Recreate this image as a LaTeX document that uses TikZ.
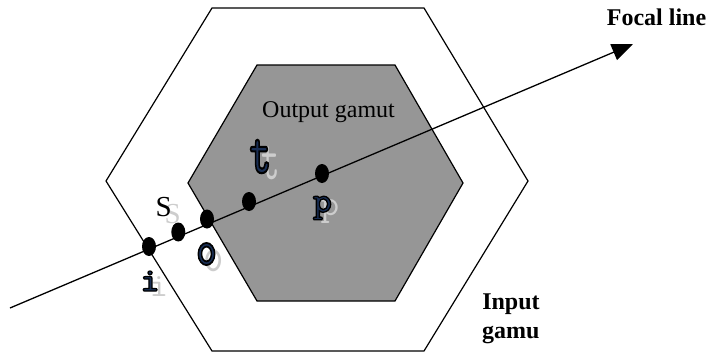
\documentclass[tikz,border=0pt]{standalone}
\usepackage{fontspec}
\setmainfont{Liberation Serif}
\usetikzlibrary{shapes.geometric,arrows.meta}
\definecolor{gamutgray}{RGB}{150,150,150}
\definecolor{ghostgray}{RGB}{205,205,205}
\newcommand{\outlch}[1]{\special{pdf:literal 2 Tr 1.3 w 0 0 0 RG 0.10 0.18 0.33 rg}#1\special{pdf:literal 0 Tr 0 g 0 G}}
\begin{document}
\begin{tikzpicture}[x=1pt,y=-1pt,
  hexline/.style={draw=black,line width=1.2pt,line join=miter},
  ptdot/.style={ellipse,fill=black,inner sep=0pt,minimum width=14pt,minimum height=19pt},
  monolab/.style={inner sep=0pt,font=\ttfamily\bfseries\fontsize{36}{36}\selectfont},
  ghostlab/.style={inner sep=0pt,text=ghostgray,font=\ttfamily\fontsize{36}{36}\selectfont},
  serlab/.style={inner sep=0pt,font=\fontsize{29}{29}\selectfont},
  ghostser/.style={serlab,text=ghostgray},
  boldtxt/.style={inner sep=0pt,font=\bfseries\fontsize{24}{28}\selectfont},
  plaintxt/.style={inner sep=0pt,font=\fontsize{24}{28}\selectfont},
]
\useasboundingbox (0,0) rectangle (710,354);
% input gamut
\draw[hexline] (212,8) -- (424,8) -- (528,181) -- (424,351) -- (212,351) -- (106,181) -- cycle;
% output gamut
\filldraw[hexline,fill=gamutgray] (257,65) -- (395,65) -- (463,183) -- (395,301) -- (257,301) -- (188,183) -- cycle;
\node[plaintxt,anchor=base] (outg) at (328.5,117.7) {Output gamut};
% focal line
\coordinate (start) at (10,308);
\coordinate (tip) at (633,44);
\draw[line width=1.3pt,-{Triangle[length=21pt,width=17pt]}] (start) -- (tip);
\node[boldtxt,anchor=base] (focal) at (656.5,25.7) {Focal line};
\node[boldtxt,anchor=base] (inp1) at (511,309.3) {Input};
\node[boldtxt,anchor=base] (inp2) at (510.7,338.3) {gamu};
% points
\node[ptdot] (di) at (149,246.5) {};
\node[ptdot] (ds) at (178.3,232) {};
\node[ptdot] (do) at (207,219) {};
\node[ptdot] (dt) at (249,201.5) {};
\node[ptdot] (dp) at (322,173.5) {};
% ghost labels
\node[ghostser] (gs) at (172.7,214) {S};
\node[ghostlab] (gi) at (159,287) {\scalebox{1.0}[0.92]{i}};
\node[ghostlab] (go) at (213.5,261) {\scalebox{1.1}[1.37]{o}};
\node[ghostlab] (gt) at (271,163.5) {\scalebox{1.0}[1.65]{t}};
\node[ghostlab] (gp) at (330,212) {p};
% labels
\node[serlab] (ls) at (163.7,207) {S};
\node[monolab] (li) at (150,281) {\scalebox{1.0}[0.92]{\outlch{i}}};
\node[monolab] (lo) at (206.5,254) {\scalebox{1.1}[1.37]{\outlch{o}}};
\node[monolab] (lt) at (260.5,156.5) {\scalebox{1.15}[1.65]{\outlch{t}}};
\node[monolab] (lp) at (322.5,208) {\outlch{p}};
\end{tikzpicture}
\end{document}
